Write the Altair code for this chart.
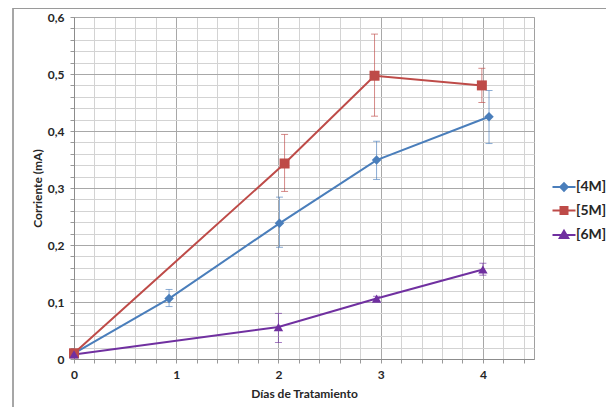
import altair as alt
import pandas as pd

series_names = ["[4M]", "[5M]", "[6M]"]
colors = ["#4A7EBB", "#BE4B48", "#7030A0"]

x4 = [0, 0.93, 2.01, 2.96, 4.06]
y4 = [0.010, 0.106, 0.238, 0.349, 0.425]
lo4 = [0.010, 0.092, 0.196, 0.315, 0.378]
hi4 = [0.010, 0.122, 0.284, 0.382, 0.471]

x5 = [0, 2.06, 2.94, 3.99]
y5 = [0.010, 0.343, 0.497, 0.480]
lo5 = [0.010, 0.294, 0.426, 0.450]
hi5 = [0.010, 0.394, 0.570, 0.510]

x6 = [0, 2.00, 2.96, 4.00]
y6 = [0.008, 0.056, 0.106, 0.157]
lo6 = [0.008, 0.029, 0.102, 0.147]
hi6 = [0.008, 0.080, 0.110, 0.168]

x_ticks = [0, 0.2, 0.4, 0.6, 0.8, 1, 1.2, 1.4, 1.6, 1.8, 2, 2.2, 2.4, 2.6, 2.8,
           3, 3.2, 3.4, 3.6, 3.8, 4, 4.2, 4.4]
y_ticks = [0, 0.02, 0.04, 0.06, 0.08, 0.1, 0.12, 0.14, 0.16, 0.18, 0.2, 0.22,
           0.24, 0.26, 0.28, 0.3, 0.32, 0.34, 0.36, 0.38, 0.4, 0.42, 0.44, 0.46,
           0.48, 0.5, 0.52, 0.54, 0.56, 0.58, 0.6]

rows = []
for name, xs, ys, los, his in [
    ("[4M]", x4, y4, lo4, hi4),
    ("[5M]", x5, y5, lo5, hi5),
    ("[6M]", x6, y6, lo6, hi6),
]:
    for a, b, c, d in zip(xs, ys, los, his):
        rows.append({"series": name, "x": a, "y": b, "lo": c, "hi": d})
df = pd.DataFrame(rows)

legend_df = pd.DataFrame({"series": series_names, "x": [0, 0, 0], "y": [-1, -1, -1]})

FONT = "Lato"
MAJOR = "#a8a8a8"
MINOR = "#d3d3d3"

xscale = alt.Scale(domain=[0, 4.5], nice=False, zero=False)
yscale = alt.Scale(domain=[0, 0.6], nice=False)
cscale = alt.Scale(domain=series_names, range=colors)

x_axis = alt.Axis(
    values=x_ticks,
    tickCount=100,
    title="Días de Tratamiento",
    labelExpr="abs(datum.value - round(datum.value)) < 1e-6 ? format(datum.value, 'd') : ''",
    gridColor={"condition": {"test": "abs(datum.value - round(datum.value)) < 1e-6", "value": MAJOR}, "value": MINOR},
    tickColor="#999999",
    tickSize=4,
    labelPadding=6,
    titlePadding=8,
    labelOverlap=False,
    labelFlush=False,
    domainColor="#8c8c8c",
)
y_axis = alt.Axis(
    values=y_ticks,
    tickCount=100,
    title="Corriente (mA)",
    labelExpr="abs(datum.value*10 - round(datum.value*10)) < 1e-6 ? (datum.value == 0 ? '0' : replace(format(datum.value, '.1f'), '.', ',')) : ''",
    gridColor={"condition": {"test": "abs(datum.value*10 - round(datum.value*10)) < 1e-6", "value": MAJOR}, "value": MINOR},
    tickColor="#999999",
    tickSize=4,
    labelPadding=6,
    titlePadding=3,
    labelOverlap=False,
    labelFlush=False,
    domainColor="#8c8c8c",
)

base = alt.Chart(df)
X = alt.X("x:Q", scale=xscale, axis=x_axis)
Y = alt.Y("y:Q", scale=yscale, axis=y_axis)
C = alt.Color("series:N", scale=cscale)

lines = base.mark_line(strokeWidth=2).encode(x=X, y=Y, color=C, detail="series:N")

err = base.mark_rule(strokeWidth=1, opacity=0.65).encode(
    x="x:Q", y="lo:Q", y2="hi:Q", color=C
)
cap_lo = base.mark_tick(orient="horizontal", size=7, thickness=1, opacity=0.65).encode(
    x="x:Q", y="lo:Q", color=C
)
cap_hi = base.mark_tick(orient="horizontal", size=7, thickness=1, opacity=0.65).encode(
    x="x:Q", y="hi:Q", color=C
)

shapes = {"[4M]": ("diamond", 90), "[5M]": ("square", 100), "[6M]": ("triangle-up", 90)}
pts = []
for name in series_names:
    shp, sz = shapes[name]
    pts.append(
        base.transform_filter(alt.datum.series == name)
        .mark_point(filled=True, shape=shp, size=sz, opacity=1)
        .encode(x="x:Q", y="y:Q", color=C)
    )

leg_paths = [
    "M-2.3,0H2.3M0,-0.75L0.75,0L0,0.75L-0.75,0Z",
    "M-2.3,0H2.3M-0.7,-0.7H0.7V0.7H-0.7Z",
    "M-2.3,0H2.3M0,-0.85L0.85,0.6H-0.85Z",
]
legend_layer = alt.Chart(legend_df).mark_point(filled=True, clip=True, opacity=1).encode(
    x="x:Q",
    y="y:Q",
    color=alt.Color("series:N", scale=cscale),
    shape=alt.Shape("series:N", scale=alt.Scale(domain=series_names, range=leg_paths)),
    stroke=alt.Stroke("series:N", scale=alt.Scale(domain=series_names, range=colors)),
)

border_left = alt.Chart(legend_df).mark_rule(color="#9a9a9a", strokeWidth=1).encode(
    x=alt.value(-61), y=alt.value(-9), y2=alt.value(400)
)
border_top = alt.Chart(legend_df).mark_rule(color="#9a9a9a", strokeWidth=1).encode(
    x=alt.value(-61), x2=alt.value(540), y=alt.value(-8.5)
)

chart = alt.layer(
    border_left, border_top, lines, err, cap_lo, cap_hi, *pts, legend_layer
).properties(
    width=460,
    height=342,
    autosize=alt.AutoSizeParams(type="none"),
    padding={"left": 66, "top": 9, "right": 72, "bottom": 48},
).configure_view(
    stroke="#a0a0a0", strokeWidth=1
).configure_axis(
    labelFont=FONT, titleFont=FONT, labelFontSize=12, titleFontSize=12,
    labelFontWeight="bold", titleFontWeight="bold",
    labelColor="#262626", titleColor="#262626", gridWidth=1,
).configure_legend(
    orient="none", legendX=483, legendY=163, title=None,
    labelFont=FONT, labelFontSize=14, labelFontWeight="bold", labelColor="#262626",
    symbolSize=100, symbolStrokeWidth=2, symbolOpacity=1, labelOffset=5, rowPadding=7.5,
)

chart.save("out.html", embed_options={"renderer": "svg", "actions": False})
